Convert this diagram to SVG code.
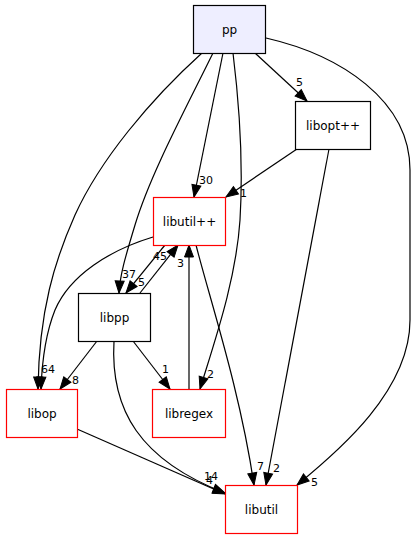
<svg xmlns="http://www.w3.org/2000/svg" width="416" height="539" viewBox="0 0 416 539">
<style>
.n rect{stroke-width:1.2}
.blk{fill:#ffffff;stroke:#000000}
.red{fill:#ffffff;stroke:#ff0000}
.top{fill:#eeeeff;stroke:#000000}
.nt{font-family:"DejaVu Sans",sans-serif;font-size:12px;fill:#000;text-anchor:middle}
.e path{fill:none;stroke:#000;stroke-width:1.2;marker-end:url(#ah)}
.el{font-family:"DejaVu Sans",sans-serif;font-size:11px;fill:#000}
</style>
<defs>
<marker id="ah" markerUnits="userSpaceOnUse" markerWidth="14" markerHeight="11" refX="12" refY="4.5" orient="auto" overflow="visible">
<path d="M0,0 L12,4.5 L0,9 z" fill="#000" stroke="#000" stroke-width="1"/>
</marker>
</defs>
<rect width="416" height="539" fill="#ffffff"/>
<g id="edges" class="e">
<path d="M255,53 L307,101"/>
<path d="M223,53 L194,197"/>
<path d="M202,53 C150,100 100,160 75,215 C55,260 39,310 38,389"/>
<path d="M213,53 C185,110 150,175 135,225 C125,258 120,275 119,293"/>
<path d="M233,53 C240,110 243,170 240,220 C236,280 215,340 200,389"/>
<path d="M266,38 C340,55 410,100 410,170 L410,320 C410,390 340,450 297,485"/>
<path d="M297,149 L226,197"/>
<path d="M329,149 L266,485"/>
<path d="M196,245 C210,300 240,390 254,485"/>
<path d="M153,237 C110,250 70,275 55,310 C45,335 42,360 41,389"/>
<path d="M165,245 L126,293"/>
<path d="M140,293 L178,245"/>
<path d="M189,389 L189,245"/>
<path d="M97,341 L60,389"/>
<path d="M133,341 L170,389"/>
<path d="M114,341 C110,410 140,460 225,493"/>
<path d="M77,429 L225,494"/>
</g>
<g id="edge-labels" class="el">
<text x="296" y="86">5</text>
<text x="199" y="184">30</text>
<text x="240" y="197">1</text>
<text x="122" y="278">37</text>
<text x="153" y="260">45</text>
<text x="138" y="286">5</text>
<text x="177" y="267">3</text>
<text x="41" y="373">64</text>
<text x="72" y="384">8</text>
<text x="162" y="373">1</text>
<text x="207" y="378">2</text>
<text x="204" y="480">14</text>
<text x="206" y="484">4</text>
<text x="257" y="470">7</text>
<text x="273" y="472">2</text>
<text x="311" y="486">5</text>
</g>
<g id="pp" class="n"><rect class="top" x="193.5" y="5.5" width="72" height="48"/><text class="nt" x="229.5" y="33.5">pp</text></g>
<g id="libopt" class="n"><rect class="blk" x="295.5" y="101.5" width="75" height="48"/><text class="nt" x="333" y="129.5">libopt++</text></g>
<g id="libutilpp" class="n"><rect class="red" x="153.5" y="197.5" width="72" height="48"/><text class="nt" x="189.5" y="225.5">libutil++</text></g>
<g id="libpp" class="n"><rect class="blk" x="78.5" y="293.5" width="72" height="48"/><text class="nt" x="114.5" y="321.5">libpp</text></g>
<g id="libop" class="n"><rect class="red" x="6.5" y="389.5" width="71" height="48"/><text class="nt" x="42" y="417.5">libop</text></g>
<g id="libregex" class="n"><rect class="red" x="152.5" y="389.5" width="73" height="48"/><text class="nt" x="189" y="417.5">libregex</text></g>
<g id="libutil" class="n"><rect class="red" x="225.5" y="485.5" width="72" height="48"/><text class="nt" x="261.5" y="513.5">libutil</text></g>
</svg>
